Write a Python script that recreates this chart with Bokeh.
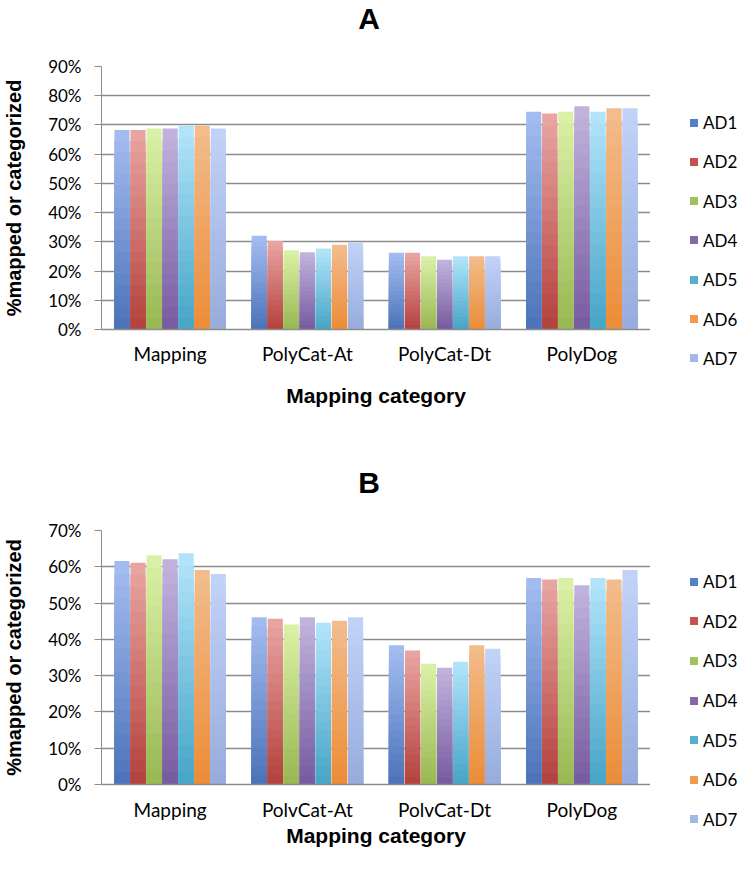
from bokeh.plotting import figure
from bokeh.models import (FactorRange, Range1d, ColumnDataSource,
                          FixedTicker, PrintfTickFormatter, Div)
from bokeh.transform import dodge
from bokeh.layouts import column, row
from bokeh.embed import file_html
from bokeh.resources import INLINE

# ---------------- data ----------------
series = ["AD1", "AD2", "AD3", "AD4", "AD5", "AD6", "AD7"]

cats_A = ["Mapping", "PolyCat-At", "PolyCat-Dt", "PolyDog"]
vals_A = {
    "AD1": [68.3, 32.1, 26.3, 74.5],
    "AD2": [68.3, 30.3, 26.3, 73.9],
    "AD3": [68.8, 27.1, 25.1, 74.5],
    "AD4": [68.8, 26.4, 23.9, 76.4],
    "AD5": [69.7, 27.7, 25.1, 74.5],
    "AD6": [69.7, 29.0, 25.1, 75.7],
    "AD7": [68.8, 29.8, 25.1, 75.7],
}
ticks_A = [0, 10, 20, 30, 40, 50, 60, 70, 80, 90]

cats_B = ["Mapping", "PolvCat-At", "PolvCat-Dt", "PolyDog"]
vals_B = {
    "AD1": [61.6, 46.1, 38.4, 56.9],
    "AD2": [61.1, 45.7, 36.9, 56.5],
    "AD3": [63.2, 44.1, 33.3, 56.9],
    "AD4": [62.1, 46.1, 32.2, 54.9],
    "AD5": [63.7, 44.6, 33.8, 56.9],
    "AD6": [59.1, 45.1, 38.4, 56.5],
    "AD7": [58.0, 46.1, 37.4, 59.1],
}
ticks_B = [0, 10, 20, 30, 40, 50, 60, 70]

# gradient colours (bottom, top) and legend colours
grad = {
    "AD1": ("#4a72b8", "#a6bef2"),
    "AD2": ("#b3403c", "#eaa7a4"),
    "AD3": ("#98b752", "#dcf2a8"),
    "AD4": ("#76599f", "#c2b5de"),
    "AD5": ("#45a4c6", "#b4e5fb"),
    "AD6": ("#ec8c37", "#f2bd8e"),
    "AD7": ("#97acdc", "#c2d3f8"),
}
legend_col = ["#5680c4", "#c4524f", "#a2c260", "#8668aa", "#55b1cf", "#f39a4e", "#a3b8e6"]

N_SLICES = 18
STEP = 0.117
BAR_W = 0.11
GRID = "#8c8c8c"


def hex2rgb(h):
    h = h.lstrip("#")
    return tuple(int(h[i:i + 2], 16) for i in (0, 2, 4))


def mix(c1, c2, t):
    a, b = hex2rgb(c1), hex2rgb(c2)
    return "#%02x%02x%02x" % tuple(int(round(a[i] + (b[i] - a[i]) * t)) for i in range(3))


def make_title(text, height):
    return Div(text=text, width=738, height=height, margin=0,
               styles={"font-family": "Liberation Sans", "font-weight": "bold",
                       "font-size": "30px", "text-align": "center",
                       "line-height": "%dpx" % height, "color": "black",
                       "width": "738px", "overflow": "hidden"})


def make_legend(height, y0, dy):
    parts = ['<div style="position:relative;width:88px;height:%dpx;">' % height]
    for i, (s, col) in enumerate(zip(series, legend_col)):
        yc = y0 + dy * i
        parts.append('<div style="position:absolute;left:40px;top:%.1fpx;width:8px;'
                     'height:8px;background:%s;"></div>' % (yc - 4, col))
        parts.append('<div style="position:absolute;left:53px;top:%.1fpx;height:19px;'
                     'line-height:19px;font-family:Lato;font-size:17px;color:black;'
                     'white-space:nowrap;">%s</div>' % (yc - 9.5, s))
    parts.append("</div>")
    return Div(text="".join(parts), width=88, height=height, margin=0)


def make_panel(cats, vals, ticks, height, top_b, bottom_b, tick_standoff, lab_standoff):
    p = figure(x_range=FactorRange(factors=cats), y_range=Range1d(0, ticks[-1]),
               width=650, height=height, output_backend="svg", toolbar_location=None,
               min_border_left=98, min_border_right=0, min_border_top=top_b,
               min_border_bottom=bottom_b)
    p.outline_line_color = None
    p.background_fill_color = "white"
    p.border_fill_color = "white"

    for j, s in enumerate(series):
        off = (j - 3) * STEP
        cs, tops, cols = [], [], []
        for c, v in zip(cats, vals[s]):
            for k in range(N_SLICES):
                frac = (N_SLICES - k) / N_SLICES
                cs.append(c)
                tops.append(v * frac)
                cols.append(mix(grad[s][0], grad[s][1], frac - 0.5 / N_SLICES))
        src = ColumnDataSource(dict(cat=cs, top=tops, color=cols))
        p.vbar(x=dodge("cat", off, range=p.x_range), top="top", bottom=0, width=BAR_W,
               fill_color="color", line_color=None, source=src)

    # y axis
    p.yaxis.ticker = FixedTicker(ticks=ticks)
    p.yaxis.formatter = PrintfTickFormatter(format="%d%%")
    p.yaxis.major_label_text_font = "Lato"
    p.yaxis.major_label_text_font_size = "17px"
    p.yaxis.major_label_text_color = "black"
    p.yaxis.major_tick_out = 7
    p.yaxis.major_tick_in = 0
    p.yaxis.minor_tick_line_color = None
    p.yaxis.major_tick_line_color = GRID
    p.yaxis.axis_line_color = GRID
    p.yaxis.major_label_standoff = 13
    p.yaxis.axis_label = "%mapped or categorized"
    p.yaxis.axis_label_text_font = "Liberation Sans"
    p.yaxis.axis_label_text_font_style = "bold"
    p.yaxis.axis_label_text_font_size = "20px"
    p.yaxis.axis_label_text_color = "black"
    p.yaxis.axis_label_standoff = 20

    # x axis
    p.xaxis.major_label_text_font = "Lato"
    p.xaxis.major_label_text_font_size = "19px"
    p.xaxis.major_label_text_color = "black"
    p.xaxis.major_tick_line_color = None
    p.xaxis.minor_tick_line_color = None
    p.xaxis.axis_line_color = GRID
    p.xaxis.axis_line_width = 1.5
    p.xaxis.major_label_standoff = tick_standoff
    p.xaxis.axis_label = "Mapping category"
    p.xaxis.axis_label_text_font = "Liberation Sans"
    p.xaxis.axis_label_text_font_style = "bold"
    p.xaxis.axis_label_text_font_size = "21px"
    p.xaxis.axis_label_text_color = "black"
    p.xaxis.axis_label_standoff = lab_standoff

    p.xgrid.grid_line_color = None
    p.ygrid.ticker = FixedTicker(ticks=ticks)
    p.ygrid.grid_line_color = GRID
    p.ygrid.grid_line_width = 1.3
    return p


tA = make_title("A", 38)
pA = make_panel(cats_A, vals_A, ticks_A, height=410, top_b=28, bottom_b=119,
                tick_standoff=6, lab_standoff=16)
lA = make_legend(410, 84.5, 39.3)
tB = make_title("B", 69)
pB = make_panel(cats_B, vals_B, ticks_B, height=353, top_b=13, bottom_b=86,
                tick_standoff=7, lab_standoff=0)
lB = make_legend(353, 64.7, 39.6)

layout = column(tA, row(pA, lA, spacing=0), tB, row(pB, lB, spacing=0), spacing=0)
open("out.html", "w").write(file_html(layout, INLINE))
